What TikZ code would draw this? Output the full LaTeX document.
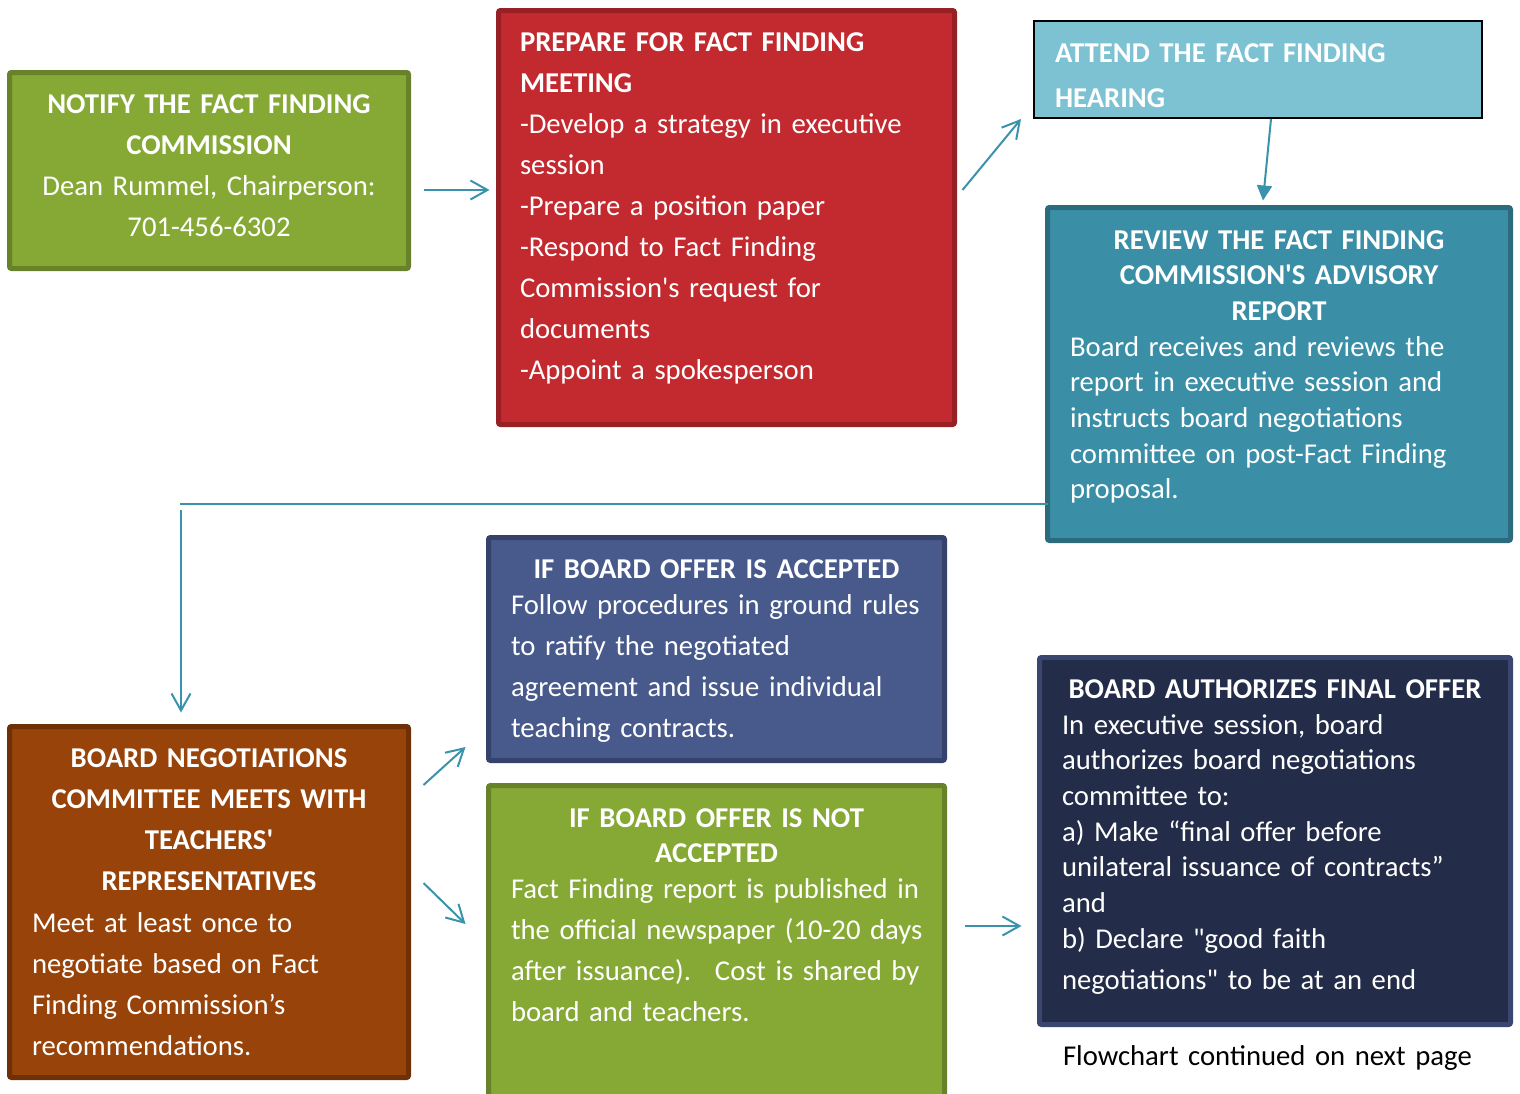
\documentclass[tikz,border=0pt]{standalone}
\usepackage{fontspec}
\setmainfont{Carlito}[Ligatures=TeXOff]
\usetikzlibrary{arrows.meta}

% box fills and edges
\definecolor{leafFill}{HTML}{86A936}
\definecolor{leafEdge}{HTML}{68812B}
\definecolor{brickFill}{HTML}{C22A2F}
\definecolor{brickEdge}{HTML}{962024}
\definecolor{skyFill}{HTML}{7DC2D3}
\definecolor{tealFill}{HTML}{3A8FA7}
\definecolor{tealEdge}{HTML}{2C6B7D}
\definecolor{slateFill}{HTML}{485A8C}
\definecolor{slateEdge}{HTML}{34426C}
\definecolor{rustFill}{HTML}{974309}
\definecolor{rustEdge}{HTML}{6E3107}
\definecolor{inkFill}{HTML}{232C48}
\definecolor{inkEdge}{HTML}{3A4670}
\definecolor{flow}{HTML}{3A93AB}

% first-line strut: text nodes are placed 30pt above their first baseline
\newcommand\fl{\rule{0pt}{30pt}}

\begin{document}
\begin{tikzpicture}[x=1pt,y=-1pt,
  card/.style={rectangle, line width=5pt, inner sep=0pt, outer sep=0pt, rounded corners=2pt},
  wide/.style={text=white, inner sep=0pt, outer sep=0pt, anchor=north west, align=left, text width=470pt},
  mid/.style={text=white, inner sep=0pt, outer sep=0pt, anchor=north, align=center, text width=#1},
  mid/.default=440pt,
  loose/.style={font=\fontsize{28.7}{41}\selectfont},
  tight/.style={font=\fontsize{28.7}{35.7}\selectfont},
  looseB/.style={font=\fontsize{28.7}{41}\selectfont\bfseries},
  tightB/.style={font=\fontsize{28.7}{35.7}\selectfont\bfseries},
  arr/.style={draw=flow, line width=2pt, -{Straight Barb[length=17pt,width=19pt,line width=2pt]}},
  link/.style={draw=flow, line width=2pt},
]
\path[use as bounding box] (0,0) rectangle (1520,1093);
\clip (0,0) rectangle (1520,1093);

% ---- boxes ----
\node[card, fill=leafFill, draw=leafEdge, minimum width=399pt, minimum height=196pt] (notify) at (209,170.5) {};
\node[card, fill=brickFill, draw=brickEdge, minimum width=456pt, minimum height=414pt] (prepare) at (726.5,217.5) {};
\node[card, fill=skyFill, draw=black, line width=2pt, rounded corners=0pt, minimum width=448pt, minimum height=97pt] (attend) at (1258,69.5) {};
\node[card, fill=tealFill, draw=tealEdge, minimum width=463pt, minimum height=333pt] (review) at (1279,374) {};
\node[card, fill=slateFill, draw=slateEdge, minimum width=456pt, minimum height=223pt] (accepted) at (716.5,649) {};
\node[card, fill=leafFill, draw=leafEdge, minimum width=456pt, minimum height=312pt] (notacc) at (716.5,941.5) {};
\node[card, fill=rustFill, draw=rustEdge, minimum width=399pt, minimum height=351pt] (board) at (209,902) {};
\node[card, fill=inkFill, draw=inkEdge, minimum width=471pt, minimum height=367pt] (final) at (1275,841) {};

% ---- texts ----
\node[mid=395pt, loose] (notifyText) at (209,83)
  {\fl{\bfseries NOTIFY THE FACT FINDING\\COMMISSION}\\Dean Rummel, Chairperson:\\701-456-6302};

\node[wide, loose] (prepareText) at (520,21)
  {\fl{\bfseries PREPARE FOR FACT FINDING\\MEETING}\\-Develop a strategy in executive\\session\\-Prepare a position paper\\-Respond to Fact Finding\\Commission's request for\\documents\\-Appoint a spokesperson};

\node[wide, font=\fontsize{28.7}{45}\selectfont\bfseries] (attendText) at (1055,32)
  {\fl ATTEND THE FACT FINDING\\HEARING};

\node[mid=455pt, tightB] (reviewHead) at (1279,219)
  {\fl REVIEW THE FACT FINDING\\COMMISSION'S ADVISORY\\REPORT};
\node[wide, tight] (reviewBody) at (1070,326)
  {\fl Board receives and reviews the\\report in executive session and\\instructs board negotiations\\committee on post-Fact Finding\\proposal.};

\node[mid, looseB] (acceptedHead) at (716.5,548)
  {\fl IF BOARD OFFER IS ACCEPTED};
\node[wide, loose] (acceptedBody) at (511,584)
  {\fl Follow procedures in ground rules\\to ratify the negotiated\\agreement and issue individual\\teaching contracts.};

\node[mid, tightB] (notaccHead) at (716.5,797)
  {\fl IF BOARD OFFER IS NOT\\ACCEPTED};
\node[wide, loose] (notaccBody) at (511,868)
  {\fl Fact Finding report is published in\\the official newspaper (10-20 days\\after issuance).~ Cost is shared by\\board and teachers.};

\node[mid=395pt, looseB] (boardHead) at (209,737)
  {\fl BOARD NEGOTIATIONS\\COMMITTEE MEETS WITH\\TEACHERS'\\REPRESENTATIVES};
\node[wide, loose] (boardBody) at (32,902)
  {\fl Meet at least once to\\negotiate based on Fact\\Finding Commission’s\\recommendations.};

\node[mid=465pt, tightB] (finalHead) at (1275,668)
  {\fl BOARD AUTHORIZES FINAL OFFER};
\node[wide, tight] (finalBody) at (1062,704)
  {\fl In executive session, board\\authorizes board negotiations\\committee to:\\a) Make “final offer before\\unilateral issuance of contracts”\\and\\b) Declare "good faith\\[5.3pt]negotiations" to be at an end};

\node[wide, loose, text=black] (caption) at (1063,1035)
  {\fl Flowchart continued on next page};

% ---- connectors ----
\draw[arr] ([shift={(15,19.5)}]notify.east) -- ([shift={(-9,-27.5)}]prepare.west);
\draw[arr] ([shift={(8,-27.5)}]prepare.east) -- ([shift={(-13,1)}]attend.south west);
\draw[draw=flow, line width=2pt, -{Triangle[length=15pt,width=15pt]}]
  ([shift={(13,1)}]attend.south) -- ([shift={(-16,-7)}]review.north);
\coordinate (turn) at (181,504);
\draw[link] ([shift={(0,130)}]review.west) -- ([xshift=-1pt]turn);
\draw[arr] ([shift={(0,6)}]turn) -- ([shift={(-28,-14)}]board.north);
\draw[arr] ([shift={(15,-117)}]board.east) -- ([shift={(-23,98)}]accepted.west);
\draw[arr] ([shift={(15,-19)}]board.east) -- ([shift={(-23,-17.5)}]notacc.west);
\draw[arr] ([shift={(20,-15.5)}]notacc.east) -- ([shift={(-18,85)}]final.west);
\end{tikzpicture}
\end{document}
